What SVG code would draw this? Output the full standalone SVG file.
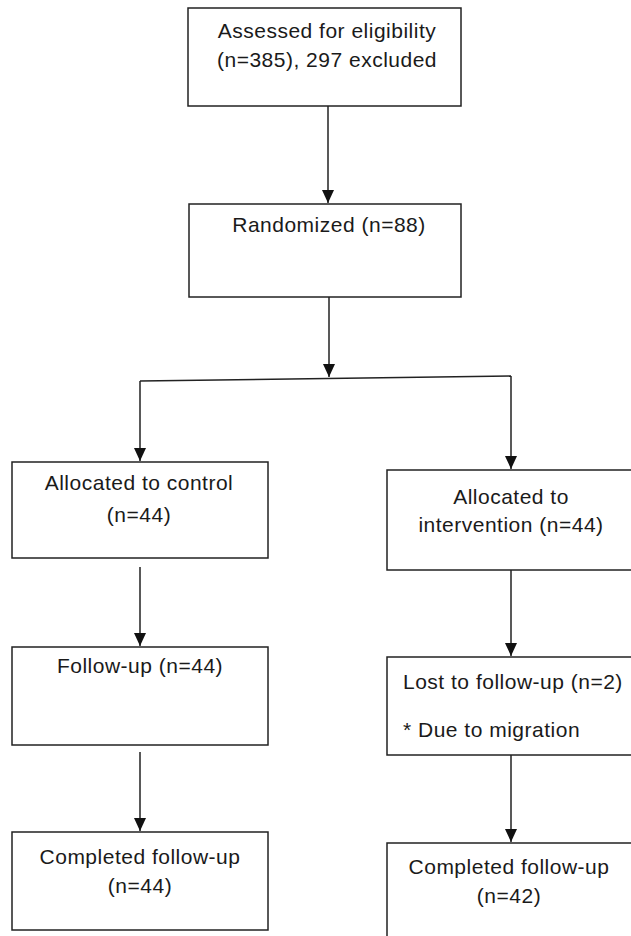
<svg xmlns="http://www.w3.org/2000/svg" width="631" height="936" viewBox="0 0 631 936">
<style>
.box{fill:#fff;stroke:#222;stroke-width:1.5}
.t{font-family:"Liberation Sans",Arial,sans-serif;font-size:21px;letter-spacing:0.5px;fill:#1a1a1a;text-anchor:middle}
.l{text-anchor:start}
.c{stroke:#222;stroke-width:1.5;fill:none}
</style>
<defs>
<marker id="a" markerUnits="userSpaceOnUse" markerWidth="14" markerHeight="12" refX="13" refY="6" orient="auto" viewBox="0 0 14 12">
<path d="M0,0 L13,6 L0,12 Z" fill="#111"/>
</marker>
</defs>
<rect width="631" height="936" fill="#fff"/>
<g id="connectors">
<line class="c" x1="328" y1="106" x2="328" y2="203" marker-end="url(#a)"/>
<line class="c" x1="329" y1="297" x2="329" y2="377" marker-end="url(#a)"/>
<line class="c" x1="140" y1="381" x2="511" y2="376"/>
<line class="c" x1="140" y1="381" x2="140" y2="461" marker-end="url(#a)"/>
<line class="c" x1="511" y1="376" x2="511" y2="469" marker-end="url(#a)"/>
<line class="c" x1="140" y1="567" x2="140" y2="646" marker-end="url(#a)"/>
<line class="c" x1="511" y1="570" x2="511" y2="656" marker-end="url(#a)"/>
<line class="c" x1="140" y1="752" x2="140" y2="831" marker-end="url(#a)"/>
<line class="c" x1="511" y1="755" x2="511" y2="842" marker-end="url(#a)"/>
</g>
<g id="assessed">
<rect class="box" x="188" y="8" width="273" height="98"/>
<text class="t" x="327" y="38">Assessed for eligibility</text>
<text class="t" x="327" y="67">(n=385), 297 excluded</text>
</g>
<g id="randomized">
<rect class="box" x="189" y="204" width="272" height="93"/>
<text class="t" x="329" y="232">Randomized (n=88)</text>
</g>
<g id="alloc-control">
<rect class="box" x="12" y="462" width="256" height="96"/>
<text class="t" x="139" y="490">Allocated to control</text>
<text class="t" x="139" y="522">(n=44)</text>
</g>
<g id="alloc-intervention">
<rect class="box" x="387" y="470" width="260" height="100"/>
<text class="t" x="511" y="504">Allocated to</text>
<text class="t" x="511" y="532">intervention (n=44)</text>
</g>
<g id="followup-control">
<rect class="box" x="12" y="647" width="256" height="98"/>
<text class="t" x="140" y="673">Follow-up (n=44)</text>
</g>
<g id="lost-intervention">
<rect class="box" x="387" y="657" width="260" height="98"/>
<text class="t l" x="403" y="689">Lost to follow-up (n=2)</text>
<text class="t l" x="403" y="737">* Due to migration</text>
</g>
<g id="completed-control">
<rect class="box" x="12" y="832" width="256" height="98"/>
<text class="t" x="140" y="864">Completed follow-up</text>
<text class="t" x="140" y="893">(n=44)</text>
</g>
<g id="completed-intervention">
<rect class="box" x="387" y="843" width="260" height="100"/>
<text class="t" x="509" y="874">Completed follow-up</text>
<text class="t" x="509" y="903">(n=42)</text>
</g>
</svg>
